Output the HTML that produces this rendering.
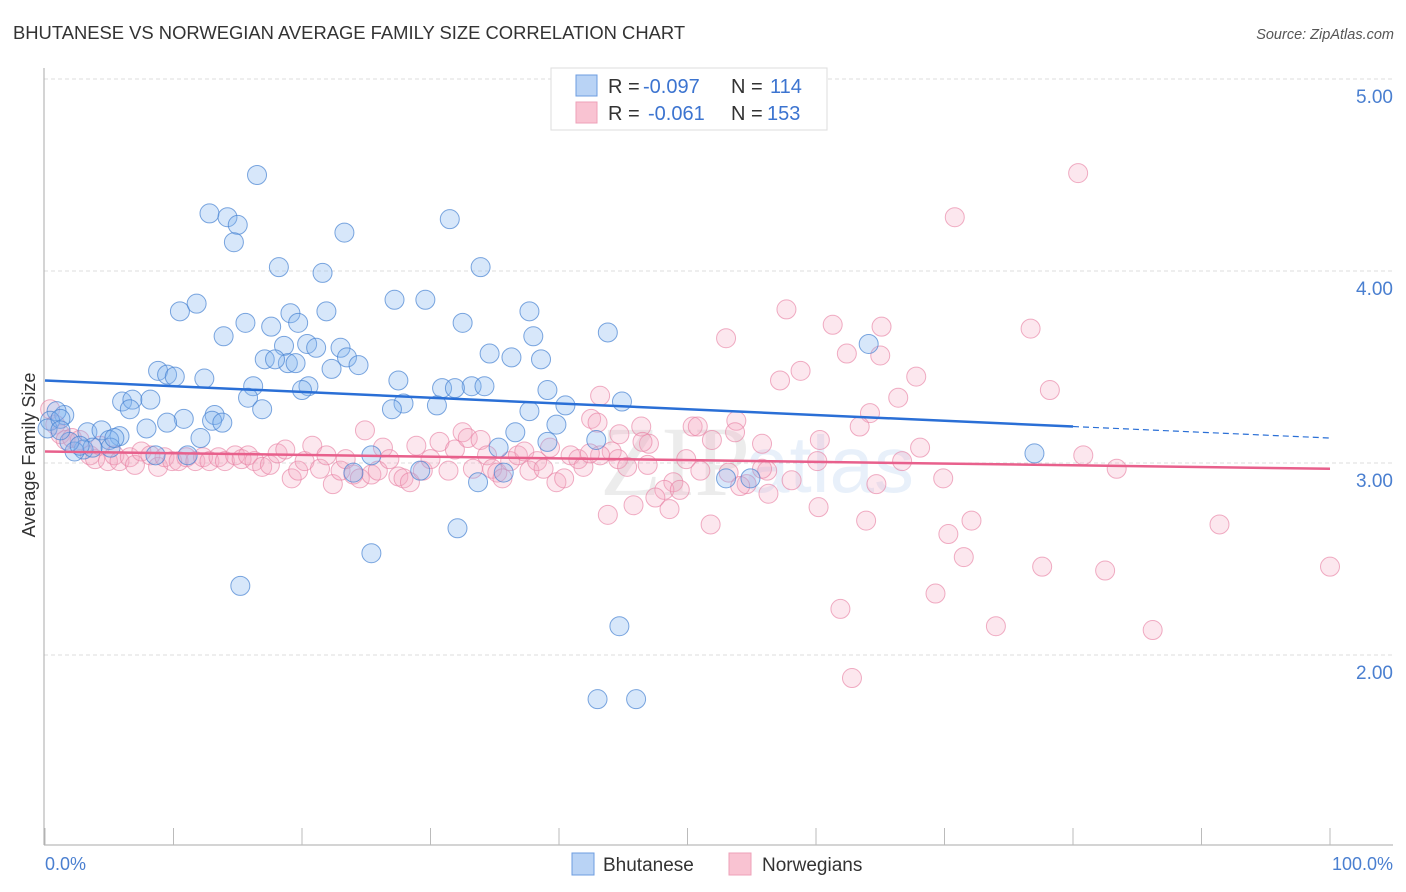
<!DOCTYPE html>
<html><head><meta charset="utf-8"><style>
body{margin:0;background:#fff;font-family:"Liberation Sans",sans-serif}
svg{display:block}
</style></head><body>
<svg id="chart" width="1406" height="892" xmlns="http://www.w3.org/2000/svg">
<text x="13" y="39" font-size="18.4" fill="#333">BHUTANESE VS NORWEGIAN AVERAGE FAMILY SIZE CORRELATION CHART</text>
<text x="1394" y="39" font-size="14.5" fill="#555" font-style="italic" text-anchor="end">Source: ZipAtlas.com</text>
<g id="grid"></g>
<g id="axes"></g>
<g opacity="0.15">
<text x="600" y="495" font-size="100" font-family="Liberation Serif,serif" fill="#888">ZIP</text>
<text x="745" y="492" font-size="80" fill="#6aa0e0">atlas</text>
</g>
<g id="pinkpts"></g>
<g id="bluepts"></g>
<g id="trends"></g>
<text x="35" y="455" font-size="18" fill="#333" text-anchor="middle" transform="rotate(-90 35 455)">Average Family Size</text>
<g>
<rect x="551" y="68" width="276" height="62" fill="#fff" stroke="#ddd"/>
<rect x="576" y="75" width="21" height="21" fill="#b9d3f5" stroke="#6d9de0"/>
<rect x="576" y="102" width="21" height="21" fill="#f9c3d2" stroke="#eea0b8"/>
<text x="608" y="93" font-size="20" fill="#333">R = <tspan fill="#3c74d0" x="643">-0.097</tspan><tspan x="731">N = </tspan><tspan fill="#3c74d0" x="770">114</tspan></text>
<text x="608" y="120" font-size="20" fill="#333">R = <tspan fill="#3c74d0" x="648">-0.061</tspan><tspan x="731">N = </tspan><tspan fill="#3c74d0" x="767">153</tspan></text>
</g>
<g>
<rect x="572" y="853" width="22" height="22" fill="#b9d3f5" stroke="#6d9de0"/>
<text x="603" y="871" font-size="19" fill="#333">Bhutanese</text>
<rect x="729" y="853" width="22" height="22" fill="#f9c3d2" stroke="#eea0b8"/>
<text x="762" y="871" font-size="19" fill="#333">Norwegians</text>
</g>
</svg>
<script>
const yTicks=[2,3,4,5];
const yTickLabels=["2.00","3.00","4.00","5.00"];
const xTicks=[0,10,20,30,40,50,60,70,80,90,100];
const xEndLabels=["0.0%","100.0%"];
const blueX=[16.5,12.8,14.2,15.0,14.7,23.3,31.5,18.2,21.6,33.9,10.5,11.8,27.2,29.6,19.1,21.9,37.7,15.6,19.7,17.6,32.5,13.9,18.6,43.8,38.0,20.4,21.1,23.0,18.9,17.1,17.9,19.5,23.5,34.6,36.3,38.6,64.1,22.3,24.4,8.8,9.5,10.1,12.4,27.5,16.2,20.5,30.9,33.2,31.9,34.2,39.1,20.0,6.0,6.8,8.2,15.8,27.9,40.5,44.9,6.6,16.9,30.5,27.0,37.7,13.2,10.8,13.0,13.8,9.5,7.9,39.8,36.6,35.3,39.1,42.9,12.1,1.5,0.9,0.4,0.2,1.2,3.3,4.4,5.8,3.0,2.3,5.0,5.1,8.6,11.1,5.4,25.4,24.0,29.2,35.7,53.0,77.0,33.7,15.2,25.4,32.1,44.7,43.0,46.0,54.9,3.7,1.9,2.7,1.2];
const blueY=[4.50,4.30,4.28,4.24,4.15,4.20,4.27,4.02,3.99,4.02,3.79,3.83,3.85,3.85,3.78,3.79,3.79,3.73,3.73,3.71,3.73,3.66,3.61,3.68,3.66,3.62,3.60,3.60,3.52,3.54,3.54,3.52,3.55,3.57,3.55,3.54,3.62,3.49,3.51,3.48,3.46,3.45,3.44,3.43,3.40,3.40,3.39,3.40,3.39,3.40,3.38,3.38,3.32,3.33,3.33,3.34,3.31,3.30,3.32,3.28,3.28,3.30,3.28,3.27,3.25,3.23,3.22,3.21,3.21,3.18,3.20,3.16,3.08,3.11,3.12,3.13,3.25,3.27,3.22,3.18,3.23,3.16,3.17,3.14,3.07,3.06,3.12,3.08,3.04,3.04,3.13,3.04,2.95,2.96,2.95,2.92,3.05,2.90,2.36,2.53,2.66,2.15,1.77,1.77,2.92,3.08,3.11,3.09,3.17];
const pinkX=[80.4,70.8,57.7,76.7,61.3,65.1,53.0,62.4,65.0,67.8,57.2,58.8,78.2,66.4,64.2,63.4,42.5,46.4,50.4,50.8,53.8,53.7,60.3,68.1,55.8,43.2,80.8,83.4,47.0,44.1,44.6,46.9,49.9,53.2,51.0,56.2,55.8,60.1,66.7,64.7,69.9,58.1,60.2,63.9,51.8,54.6,54.1,56.3,48.9,48.2,49.4,47.5,45.8,43.8,48.6,70.3,72.1,71.5,77.6,82.5,91.4,100.0,69.3,61.9,74.0,86.2,62.8,45.3,43.2,
0.4,0.8,1.2,1.6,2.1,2.7,3.5,3.9,4.3,4.9,5.4,5.8,6.6,7.0,7.5,8.2,8.8,9.3,9.9,10.4,11.0,11.7,12.3,12.8,13.5,14.0,14.8,15.3,15.8,16.3,16.9,17.5,18.1,18.7,19.2,19.7,20.2,20.8,21.4,21.9,22.4,23.0,23.4,24.0,24.5,24.9,25.4,25.9,26.3,26.8,27.5,27.9,28.4,28.9,29.4,30.0,30.7,31.4,31.9,32.5,32.9,33.3,33.9,34.4,34.8,35.2,35.6,36.2,36.8,37.3,37.7,38.3,38.8,39.3,39.8,40.4,40.9,41.5,41.9,42.4,44.7,46.5,51.9,43.0];
const pinkY=[4.51,4.28,3.80,3.70,3.72,3.71,3.65,3.57,3.56,3.45,3.43,3.48,3.38,3.34,3.26,3.19,3.23,3.19,3.19,3.19,3.22,3.16,3.12,3.08,3.10,3.35,3.04,2.97,3.10,3.06,3.02,2.99,3.02,2.95,2.96,2.96,2.97,3.01,3.01,2.89,2.92,2.91,2.77,2.70,2.68,2.89,2.88,2.84,2.90,2.86,2.86,2.82,2.78,2.73,2.76,2.63,2.70,2.51,2.46,2.44,2.68,2.46,2.32,2.24,2.15,2.13,1.88,2.98,3.04,
3.28,3.20,3.15,3.12,3.13,3.12,3.04,3.02,3.09,3.01,3.04,3.01,3.03,2.99,3.06,3.04,2.98,3.03,3.01,3.01,3.03,3.01,3.03,3.01,3.03,3.01,3.04,3.02,3.04,3.01,2.98,2.99,3.05,3.07,2.92,2.96,3.01,3.09,2.97,3.04,2.89,2.96,3.02,2.94,2.92,3.17,2.94,2.96,3.08,3.02,2.93,2.92,2.90,3.09,2.96,3.02,3.11,2.96,3.07,3.16,3.13,2.97,3.12,3.04,2.97,2.95,2.92,3.01,3.04,3.06,2.96,3.01,2.97,3.08,2.90,2.92,3.04,3.02,2.98,3.05,3.15,3.11,3.12,3.21];
const blueTrend=[3.43,3.19,3.13];
const pinkTrend=[3.06,2.97];

const NS="http://www.w3.org/2000/svg";
const X0=45,X1=1330;
function sx(v){return X0+(X1-X0)*v/100;}
function sy(v){return 463-(v-3)*192;}
function mk(tag,attrs,parent){const e=document.createElementNS(NS,tag);for(const k in attrs)e.setAttribute(k,attrs[k]);parent.appendChild(e);return e;}
const grid=document.getElementById('grid'),axes=document.getElementById('axes');
yTicks.forEach((t,i)=>{
 const l=mk('line',{x1:44,x2:1393,y1:sy(t),y2:sy(t),stroke:'#ddd','stroke-dasharray':'4 3'},grid);
 
 
 const tx=mk('text',{x:1393,y:sy(t)+24,'font-size':19,fill:'#4a7fd0','text-anchor':'end'},axes);
 tx.textContent=yTickLabels[i];
 
 
});
const ya=mk('line',{x1:44,x2:44,y1:68,y2:845,stroke:'#aaa'},axes);


const xa=mk('line',{x1:44,x2:1393,y1:845,y2:845,stroke:'#aaa'},axes);


xTicks.forEach(t=>{
 const l=mk('line',{x1:sx(t),x2:sx(t),y1:828,y2:845,stroke:'#bbb'},axes);
 
 
});
const xl0=mk('text',{x:45,y:870,'font-size':18,fill:'#4a7fd0'},axes);xl0.textContent=xEndLabels[0];


const xl1=mk('text',{x:1393,y:870,'font-size':18,fill:'#4a7fd0','text-anchor':'end'},axes);xl1.textContent=xEndLabels[1];


const pg=document.getElementById('pinkpts');
pinkX.forEach((x,i)=>{
 const c=mk('circle',{cx:sx(x),cy:sy(pinkY[i]),r:9.5,fill:'rgba(246,170,195,0.28)',stroke:'rgba(232,130,165,0.65)','stroke-width':1},pg);
 
 
});
const bg=document.getElementById('bluepts');
blueX.forEach((x,i)=>{
 const c=mk('circle',{cx:sx(x),cy:sy(blueY[i]),r:9.5,fill:'rgba(130,180,240,0.32)',stroke:'rgba(70,130,210,0.7)','stroke-width':1},bg);
 
 
});
const tg=document.getElementById('trends');
const b1=mk('line',{x1:sx(0),y1:sy(blueTrend[0]),x2:sx(80),y2:sy(blueTrend[1]),stroke:'#2a6fd6','stroke-width':2.5},tg);


const b2=mk('line',{x1:sx(80),y1:sy(blueTrend[1]),x2:sx(100),y2:sy(blueTrend[2]),stroke:'#2a6fd6','stroke-width':1.2,'stroke-dasharray':'6 4'},tg);


const p1=mk('line',{x1:sx(0),y1:sy(pinkTrend[0]),x2:sx(100),y2:sy(pinkTrend[1]),stroke:'#e8608c','stroke-width':2.5},tg);


</script>
</body></html>
